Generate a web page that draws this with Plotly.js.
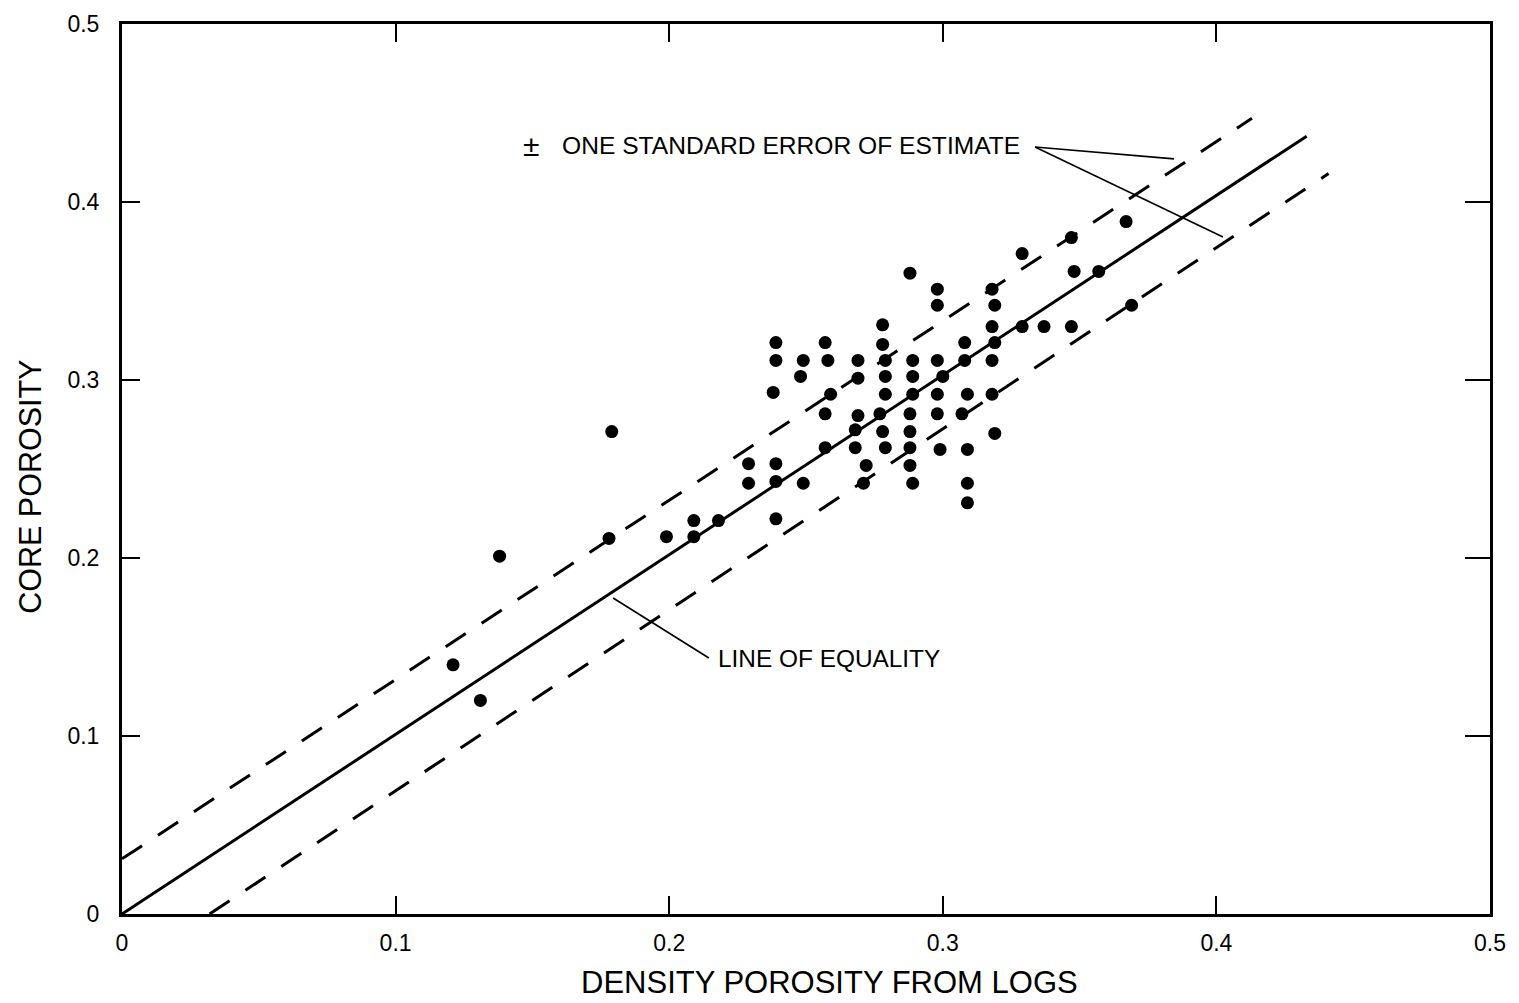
<!DOCTYPE html>
<html>
<head>
<meta charset="utf-8">
<script src="https://cdn.plot.ly/plotly-3.0.1.min.js"></script>
<style>
  html, body { margin: 0; padding: 0; background: #ffffff; }
  #chart { width: 1519px; height: 1003px; }
</style>
</head>
<body>
<div id="chart"></div>
<script>
// Core porosity vs. density porosity from logs (one dot per sample)
const densityPorosity = [
  0.121, 0.131, 0.138, 0.178, 0.179, 0.199, 0.209, 0.209, 0.218,
  0.229, 0.229,
  0.239, 0.239, 0.238, 0.239, 0.239, 0.239,
  0.249, 0.248, 0.249,
  0.257, 0.258, 0.259, 0.257, 0.257,
  0.269, 0.269, 0.269, 0.268, 0.268, 0.272, 0.271,
  0.278, 0.278, 0.279, 0.279, 0.279, 0.277, 0.278, 0.279,
  0.288, 0.289, 0.289, 0.289, 0.288, 0.288, 0.288, 0.288, 0.289,
  0.298, 0.298, 0.298, 0.300, 0.298, 0.298, 0.299,
  0.308, 0.308, 0.309, 0.307, 0.309, 0.309, 0.309,
  0.318, 0.319, 0.318, 0.319, 0.318, 0.318, 0.319,
  0.329, 0.329, 0.337,
  0.347, 0.348, 0.347, 0.357, 0.367, 0.369
];
const corePorosity = [
  0.140, 0.120, 0.201, 0.211, 0.271, 0.212, 0.221, 0.212, 0.221,
  0.253, 0.242,
  0.321, 0.311, 0.293, 0.253, 0.243, 0.222,
  0.311, 0.302, 0.242,
  0.321, 0.311, 0.292, 0.281, 0.262,
  0.311, 0.301, 0.280, 0.272, 0.262, 0.252, 0.242,
  0.331, 0.320, 0.311, 0.302, 0.292, 0.281, 0.271, 0.262,
  0.360, 0.311, 0.302, 0.292, 0.281, 0.271, 0.262, 0.252, 0.242,
  0.351, 0.342, 0.311, 0.302, 0.292, 0.281, 0.261,
  0.321, 0.311, 0.292, 0.281, 0.261, 0.242, 0.231,
  0.351, 0.342, 0.330, 0.321, 0.311, 0.292, 0.270,
  0.371, 0.330, 0.330,
  0.380, 0.361, 0.330, 0.361, 0.389, 0.342
];

// Reference lines: equality and plus/minus one standard error of estimate
const equalityX = [0, 0.433];
const equalityY = [0, 0.437];
const upperErrX = [0, 0.413];
const upperErrY = [0.031, 0.447];
const lowerErrX = [0.032, 0.441];
const lowerErrY = [0, 0.416];

const axisTicks = [0, 0.1, 0.2, 0.3, 0.4, 0.5];
const axisTickText = ['0', '0.1', '0.2', '0.3', '0.4', '0.5'];

const FONT = 'Liberation Sans, Arial, Helvetica, sans-serif';
const INK = '#000000';

const traces = [
  {
    x: upperErrX, y: upperErrY, type: 'scatter', mode: 'lines',
    line: { color: INK, width: 3, dash: '24px,19px' }, hoverinfo: 'skip'
  },
  {
    x: lowerErrX, y: lowerErrY, type: 'scatter', mode: 'lines',
    line: { color: INK, width: 3, dash: '24px,19px' }, hoverinfo: 'skip'
  },
  {
    x: equalityX, y: equalityY, type: 'scatter', mode: 'lines',
    line: { color: INK, width: 3 }, hoverinfo: 'skip', yaxis: 'y2'
  },
  {
    x: densityPorosity, y: corePorosity, type: 'scatter', mode: 'markers',
    marker: { color: INK, size: 13, line: { width: 0 } }
  }
];

const layout = {
  width: 1519,
  height: 1003,
  margin: { l: 122, r: 29, t: 24, b: 89 },
  paper_bgcolor: '#ffffff',
  plot_bgcolor: '#ffffff',
  showlegend: false,
  font: { family: FONT, color: INK, size: 23 },
  xaxis: {
    range: [0, 0.5],
    tickvals: axisTicks, ticktext: axisTickText,
    ticks: 'inside', ticklen: 18, tickwidth: 2, tickcolor: INK,
    showline: true, linewidth: 3, linecolor: INK, mirror: 'ticks',
    showgrid: false, zeroline: false,
    tickfont: { family: FONT, size: 23, color: INK },
    ticklabelstandoff: 6
  },
  yaxis: {
    range: [0, 0.5],
    tickvals: axisTicks, ticktext: axisTickText,
    ticks: 'inside', ticklen: 18, tickwidth: 2, tickcolor: INK,
    showline: true, linewidth: 3, linecolor: INK, mirror: true,
    showgrid: false, zeroline: false,
    tickfont: { family: FONT, size: 23, color: INK },
    ticklabelstandoff: 15
  },
  yaxis2: {
    overlaying: 'y', side: 'right', range: [0, 0.5],
    tickvals: axisTicks, showticklabels: false,
    ticks: 'inside', ticklen: 25, tickwidth: 2, tickcolor: INK,
    showline: false, showgrid: false, zeroline: false
  },
  shapes: [
    // leader lines for the callouts
    { type: 'line', xref: 'x', yref: 'y', x0: 0.3337, y0: 0.4309, x1: 0.3845, y1: 0.4242,
      line: { color: INK, width: 1.6 } },
    { type: 'line', xref: 'x', yref: 'y', x0: 0.3337, y0: 0.4309, x1: 0.4024, y1: 0.3803,
      line: { color: INK, width: 1.6 } },
    { type: 'line', xref: 'x', yref: 'y', x0: 0.1795, y0: 0.1775, x1: 0.2145, y1: 0.1438,
      line: { color: INK, width: 1.6 } }
  ],
  annotations: [
    { xref: 'x', yref: 'y', x: 0.1495, y: 0.432, text: '\u00b1', showarrow: false,
      xanchor: 'center', yanchor: 'middle', font: { family: FONT, size: 30, color: INK } },
    { xref: 'x', yref: 'y', x: 0.1601, y: 0.432, text: 'ONE STANDARD ERROR OF ESTIMATE',
      showarrow: false, xanchor: 'left', yanchor: 'middle',
      font: { family: FONT, size: 24.6, color: INK } },
    { xref: 'x', yref: 'y', x: 0.2171, y: 0.1433, text: 'LINE OF EQUALITY',
      showarrow: false, xanchor: 'left', yanchor: 'middle',
      font: { family: FONT, size: 24.4, color: INK } },
    { xref: 'paper', yref: 'paper', x: 0.5175, y: -0.0775, text: 'DENSITY POROSITY FROM LOGS',
      showarrow: false, xanchor: 'center', yanchor: 'middle',
      font: { family: FONT, size: 31, color: INK } },
    { xref: 'paper', yref: 'paper', x: -0.0673, y: 0.48, text: 'CORE POROSITY',
      showarrow: false, xanchor: 'center', yanchor: 'middle', textangle: -90,
      font: { family: FONT, size: 30.5, color: INK } }
  ]
};

Plotly.newPlot('chart', traces, layout, { displayModeBar: false, staticPlot: true });
</script>
</body>
</html>
